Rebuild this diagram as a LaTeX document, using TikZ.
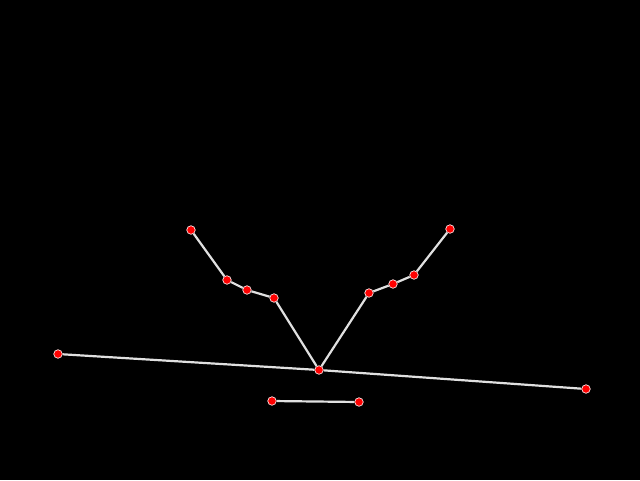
\documentclass[tikz,border=0pt]{standalone}
\usetikzlibrary{positioning}
\tikzset{
  joint/.style={circle, fill=red, draw=white!90!red, line width=0.7pt, inner sep=0pt, minimum size=8.5pt},
  bone/.style={draw=black!12, line width=2.2pt},
}
\begin{document}
\begin{tikzpicture}[x=1pt, y=-1pt]
	\fill[black] (0,0) rectangle (640,480);
	\useasboundingbox (0,0) rectangle (640,480);
	% left arm
	\node[joint] (la1) at (191,230) {};
	\node[joint] (la2) at (227,280) {};
	\node[joint] (la3) at (247,290) {};
	\node[joint] (la4) at (274,298) {};
	% centre
	\node[joint] (mid) at (319,370) {};
	% right arm
	\node[joint] (ra4) at (369,293) {};
	\node[joint] (ra3) at (393,284) {};
	\node[joint] (ra2) at (414,275) {};
	\node[joint] (ra1) at (450,229) {};
	% long bar and short bar
	\node[joint] (bl) at (58,354) {};
	\node[joint] (br) at (586,389) {};
	\node[joint] (sl) at (272,401) {};
	\node[joint] (sr) at (359,402) {};
	\draw[bone] (la1) -- (la2) -- (la3) -- (la4) -- (mid) -- (ra4) -- (ra3) -- (ra2) -- (ra1);
	\draw[bone] (bl) -- (mid) -- (br);
	\draw[bone] (sl) -- (sr);
\end{tikzpicture}
\end{document}
